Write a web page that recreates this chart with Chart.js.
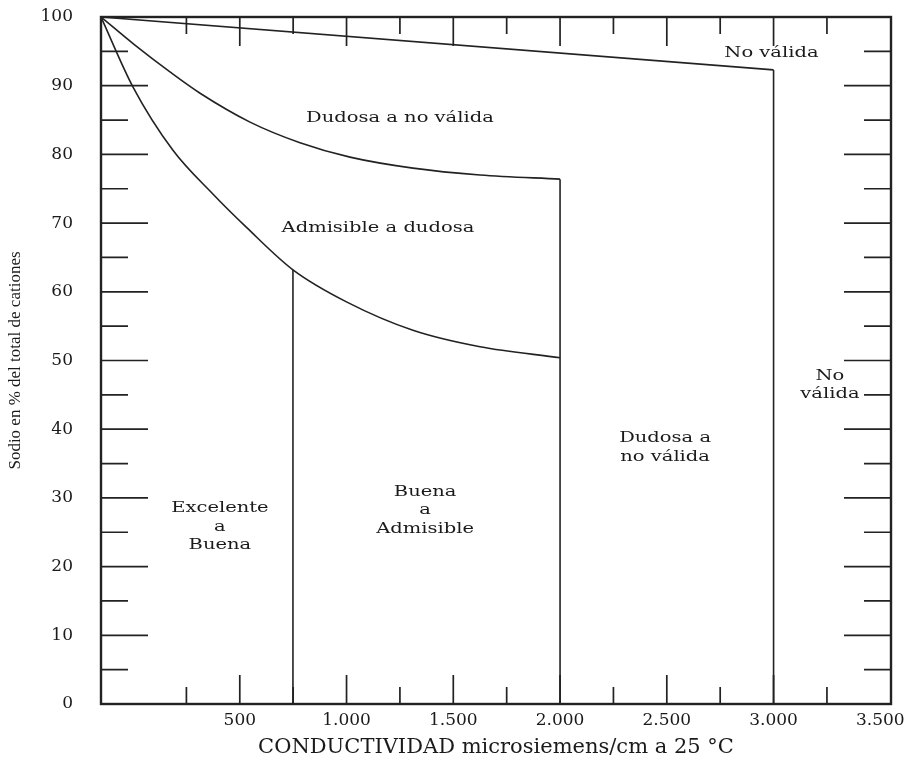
<!DOCTYPE html>
<html>
<head>
<meta charset="utf-8">
<script src="https://cdn.jsdelivr.net/npm/chart.js@4.4.1/dist/chart.umd.min.js"></script>
<style>
html,body{margin:0;padding:0;background:#ffffff;}
#wrap{width:911px;height:763px;position:relative;}
</style>
</head>
<body>
<div id="wrap"><canvas id="c" width="911" height="763"></canvas></div>
<script>
// ---- data (x: conductivity µS/cm, y: % Na) ----
const xTickValues = [500, 1000, 1500, 2000, 2500, 3000, 3500];
const yTickValues = [0, 10, 20, 30, 40, 50, 60, 70, 80, 90, 100];
const xLongMarks = [500, 1000, 1500, 2000, 2500, 3000];
const xShortMarks = [250, 750, 1250, 1750, 2250, 2750, 3250];
const yLongMarks = [10, 20, 30, 40, 50, 60, 70, 80, 90];
const yShortMarks = [5, 15, 25, 35, 45, 55, 65, 75, 85, 95];

const topLineX = [-150, 3000];
const topLineY = [100, 92.3];

const upperCurveX = [-150, 9, 173, 314, 548, 782, 1016, 1311, 1625, 2000];
const upperCurveY = [100, 95.9, 92.0, 88.9, 84.7, 81.7, 79.6, 78.0, 77.0, 76.4];

const lowerCurveX = [-150, 0, 187, 375, 534, 749, 1002, 1311, 1625, 2000];
const lowerCurveY = [100, 89.8, 80.6, 74.2, 69.3, 63.2, 58.5, 54.4, 52.0, 50.4];

const line750X = [749, 749];   const line750Y = [0, 63.2];
const line2000X = [2000, 2000]; const line2000Y = [0, 76.4];
const line3000X = [3000, 3000]; const line3000Y = [0, 92.3];

const zoneTexts = [
  ['No válida'],
  ['Dudosa a no válida'],
  ['Admisible a dudosa'],
  ['Excelente', 'a', 'Buena'],
  ['Buena', 'a', 'Admisible'],
  ['Dudosa a', 'no válida'],
  ['No', 'válida']
];
const zoneTextX = [2990, 1250, 1147, 407, 1368, 2492, 3264];
const zoneTextY = [94.8, 85.3, 69.3, 25.8, 28.2, 37.3, 46.4];

const xTitle = 'CONDUCTIVIDAD microsiemens/cm a 25 °C';
const yTitle = 'Sodio en % del total de cationes';

// ---- helpers ----
const pts = (xs, ys) => xs.map((v, i) => ({x: v, y: ys[i]}));
const fmtThousands = v => String(v).replace(/\B(?=(\d{3})+(?!\d))/g, '.');
const INK = '#222222';

function lineDS(xs, ys, smooth) {
  return {
    data: pts(xs, ys),
    showLine: true,
    borderColor: INK,
    borderWidth: 1.6,
    pointRadius: 0,
    pointHoverRadius: 0,
    fill: false,
    tension: smooth ? 0.4 : 0,
    cubicInterpolationMode: smooth ? 'monotone' : 'default'
  };
}

const marksPlugin = {
  id: 'marksPlugin',
  afterDatasetsDraw(chart) {
    const {ctx, chartArea: a, scales: {x, y}} = chart;
    ctx.save();
    ctx.strokeStyle = INK;
    ctx.lineCap = 'butt';
    ctx.lineWidth = 1.7;
    ctx.beginPath();
    const vMark = (v, len) => {
      const px = x.getPixelForValue(v);
      ctx.moveTo(px, a.top); ctx.lineTo(px, a.top + len);
      ctx.moveTo(px, a.bottom); ctx.lineTo(px, a.bottom - len);
    };
    const hMark = (v, len) => {
      const py = y.getPixelForValue(v);
      ctx.moveTo(a.left, py); ctx.lineTo(a.left + len, py);
      ctx.moveTo(a.right, py); ctx.lineTo(a.right - len, py);
    };
    xLongMarks.forEach(v => vMark(v, 29));
    xShortMarks.forEach(v => vMark(v, 17));
    yLongMarks.forEach(v => hMark(v, 47));
    yShortMarks.forEach(v => hMark(v, 27));
    ctx.stroke();
    ctx.lineWidth = 2.4;
    ctx.strokeRect(a.left, a.top, a.right - a.left, a.bottom - a.top);

    // zone labels
    ctx.fillStyle = '#1a1a1a';
    ctx.font = '15px "DejaVu Serif"';
    ctx.textAlign = 'center';
    ctx.textBaseline = 'middle';
    const stretch = 1.3, lh = 18.5;
    zoneTexts.forEach((lines, i) => {
      const cx = x.getPixelForValue(zoneTextX[i]);
      const cy = y.getPixelForValue(zoneTextY[i]);
      const y0 = cy - (lines.length - 1) * lh / 2;
      lines.forEach((t, k) => {
        ctx.save();
        ctx.translate(cx, y0 + k * lh);
        ctx.scale(stretch, 1);
        ctx.fillText(t, 0, 0);
        ctx.restore();
      });
    });
    ctx.restore();
  }
};

new Chart(document.getElementById('c'), {
  type: 'scatter',
  data: {
    datasets: [
      lineDS(topLineX, topLineY, false),
      lineDS(upperCurveX, upperCurveY, true),
      lineDS(lowerCurveX, lowerCurveY, true),
      lineDS(line750X, line750Y, false),
      lineDS(line2000X, line2000Y, false),
      lineDS(line3000X, line3000Y, false)
    ]
  },
  options: {
    responsive: false,
    animation: false,
    devicePixelRatio: 1,
    layout: {padding: {top: 17, right: 20, left: 0, bottom: 0}},
    plugins: {legend: {display: false}, tooltip: {enabled: false}},
    scales: {
      x: {
        type: 'linear',
        min: -150,
        max: 3550,
        afterFit(s) { s.height = 59; },
        afterBuildTicks(s) { s.ticks = xTickValues.map(v => ({value: v})); },
        grid: {display: false, drawTicks: false},
        border: {display: false},
        ticks: {
          padding: 6,
          color: '#1a1a1a',
          font: {family: '"DejaVu Serif"', size: 17},
          maxRotation: 0,
          autoSkip: false,
          callback: v => fmtThousands(v)
        },
        title: {
          display: true,
          text: xTitle,
          color: '#1a1a1a',
          font: {family: '"DejaVu Serif"', size: 21},
          padding: {top: 0, bottom: 3}
        }
      },
      y: {
        type: 'linear',
        min: 0,
        max: 100,
        afterFit(s) { s.width = 101; s.paddingTop = 0; s.paddingBottom = 0; },
        afterBuildTicks(s) { s.ticks = yTickValues.map(v => ({value: v})); },
        grid: {display: false, drawTicks: false},
        border: {display: false},
        ticks: {
          padding: 28,
          color: '#1a1a1a',
          font: {family: '"DejaVu Serif"', size: 17},
          autoSkip: false
        },
        title: {
          display: true,
          text: yTitle,
          color: '#1a1a1a',
          font: {family: '"Liberation Serif"', size: 17},
          padding: {top: 5, bottom: 0}
        }
      }
    }
  },
  plugins: [marksPlugin]
});
</script>
</body>
</html>
